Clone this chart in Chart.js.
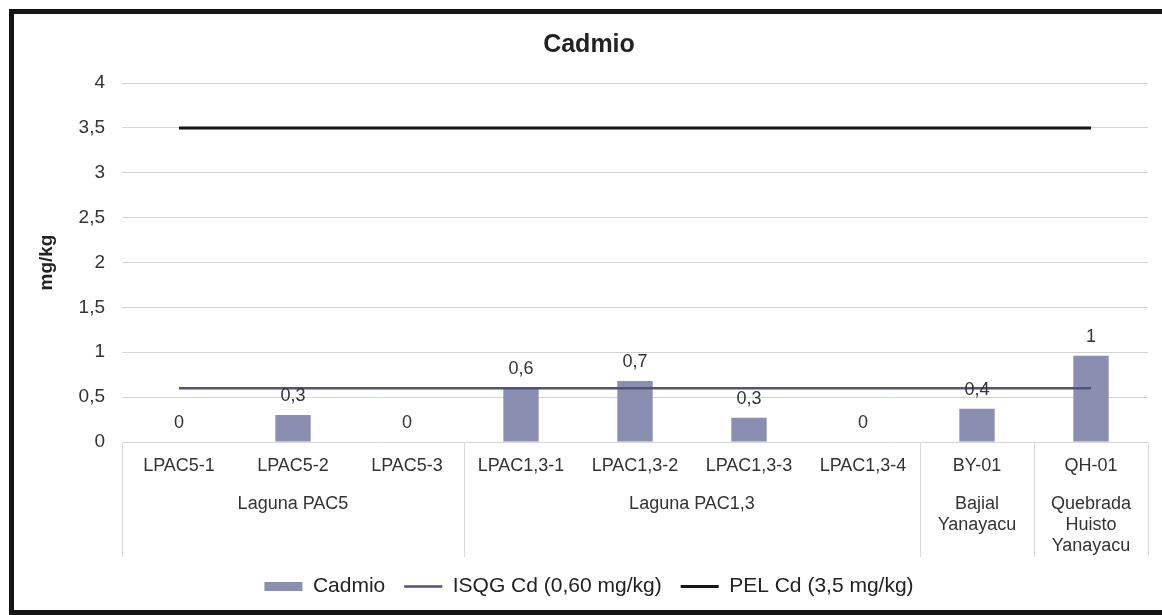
<!DOCTYPE html>
<html>
<head>
<meta charset="utf-8">
<script src="https://cdn.jsdelivr.net/npm/chart.js@4.4.1/dist/chart.umd.min.js"></script>
<style>
  body { margin: 0; background: #fff; overflow: hidden; }
  #frame { position: absolute; left: 9px; top: 9px; width: 1170px; height: 606px; border: 5px solid #151515; box-sizing: border-box; pointer-events: none; }
  canvas { position: absolute; left: 0; top: 0; }
</style>
</head>
<body>
<canvas id="cadmioChart" width="1162" height="615"></canvas>
<div id="frame"></div>
<script>
// stations and values (mg/kg)
const stations = ['LPAC5-1', 'LPAC5-2', 'LPAC5-3', 'LPAC1,3-1', 'LPAC1,3-2', 'LPAC1,3-3', 'LPAC1,3-4', 'BY-01', 'QH-01'];
const cadmio = [0, 0.3, 0, 0.6, 0.68, 0.27, 0, 0.37, 0.96];
const isqg = [0.6, 0.6, 0.6, 0.6, 0.6, 0.6, 0.6, 0.6, 0.6];
const pel = [3.5, 3.5, 3.5, 3.5, 3.5, 3.5, 3.5, 3.5, 3.5];

// site groups under the station labels
const groupNames = [['Laguna PAC5'], ['Laguna PAC1,3'], ['Bajial', 'Yanayacu'], ['Quebrada', 'Huisto', 'Yanayacu']];
const groupFirst = [0, 3, 7, 8];
const groupLast = [2, 6, 7, 8];

const yTicks = [0, 0.5, 1, 1.5, 2, 2.5, 3, 3.5, 4];

const FONT = "'Liberation Sans', Arial, sans-serif";

function comma(v) {
    let s = (Math.round(v * 10) / 10).toString();
    return s.replace('.', ',');
}

// value labels above the bars
const barLabels = {
    id: 'barLabels',
    afterDatasetsDraw(chart) {
        const ctx = chart.ctx;
        const meta = chart.getDatasetMeta(0);
        ctx.save();
        ctx.font = '18px ' + FONT;
        ctx.fillStyle = '#333';
        ctx.textAlign = 'center';
        ctx.textBaseline = 'middle';
        meta.data.forEach((bar, i) => {
            ctx.fillText(comma(cadmio[i]), bar.x, bar.y - 19);
        });
        ctx.restore();
    }
};

// second row of x labels with separators
const groupAxis = {
    id: 'groupAxis',
    afterDraw(chart) {
        const ctx = chart.ctx;
        const x = chart.scales.x;
        const top = chart.chartArea.bottom;
        const bottom = top + 115;
        const half = (x.getPixelForValue(1) - x.getPixelForValue(0)) / 2;
        ctx.save();
        ctx.strokeStyle = '#dadada';
        ctx.lineWidth = 1;
        const edges = groupFirst.map(i => x.getPixelForValue(i) - half);
        edges.push(x.getPixelForValue(groupLast[groupLast.length - 1]) + half);
        edges.forEach(px => {
            ctx.beginPath();
            ctx.moveTo(Math.round(px) + 0.5, top);
            ctx.lineTo(Math.round(px) + 0.5, bottom);
            ctx.stroke();
        });
        ctx.font = '18px ' + FONT;
        ctx.fillStyle = '#333';
        ctx.textAlign = 'center';
        ctx.textBaseline = 'middle';
        groupNames.forEach((lines, g) => {
            const cx = (x.getPixelForValue(groupFirst[g]) + x.getPixelForValue(groupLast[g])) / 2;
            lines.forEach((t, k) => {
                ctx.fillText(t, cx, top + 62 + k * 21);
            });
        });
        ctx.restore();
    }
};

new Chart(document.getElementById('cadmioChart'), {
    data: {
        labels: stations,
        datasets: [{
            type: 'bar',
            label: 'Cadmio',
            data: cadmio,
            backgroundColor: '#8a8fb2',
            borderWidth: 0,
            barPercentage: 0.31,
            categoryPercentage: 1,
            pointStyle: 'rect',
            order: 2
        },
        {
            type: 'line',
            label: 'ISQG Cd (0,60 mg/kg)',
            data: isqg,
            borderColor: '#4f5573',
            borderWidth: 2.5,
            pointRadius: 0,
            pointStyle: 'line',
            order: 1
        },
        {
            type: 'line',
            label: 'PEL Cd (3,5 mg/kg)',
            data: pel,
            borderColor: '#151515',
            borderWidth: 3,
            pointRadius: 0,
            pointStyle: 'line',
            order: 0
        }]
    },
    plugins: [barLabels, groupAxis],
    options: {
        responsive: false,
        animation: false,
        devicePixelRatio: 1,
        layout: { padding: { left: 30, right: 14, top: 30, bottom: 8 } },
        plugins: {
            title: {
                display: true,
                text: 'Cadmio',
                color: '#222',
                font: { family: FONT, size: 25, weight: 'bold' },
                padding: { top: 0, bottom: 23 }
            },
            legend: {
                position: 'bottom',
                labels: {
                    usePointStyle: true,
                    pointStyleWidth: 38,
                    boxHeight: 9,
                    color: '#222',
                    font: { family: FONT, size: 21 },
                    padding: 19,
                    sort: (a, b) => a.datasetIndex - b.datasetIndex
                }
            },
            tooltip: { enabled: false }
        },
        scales: {
            x: {
                grid: { display: false, drawTicks: false },
                border: { display: false },
                ticks: { color: '#333', font: { family: FONT, size: 18 }, padding: 13, maxRotation: 0 },
                afterFit(scale) { scale.height = 115; }
            },
            y: {
                min: 0,
                max: 4,
                afterBuildTicks(scale) { scale.ticks = yTicks.map(v => ({ value: v })); },
                grid: { color: '#d4d4d4', drawTicks: false },
                border: { display: false },
                ticks: { color: '#333', font: { family: FONT, size: 19 }, padding: 17, callback: v => comma(v) },
                title: { display: true, text: 'mg/kg', color: '#222', font: { family: FONT, size: 19, weight: 'bold' }, padding: 5 },
                afterFit(scale) { scale.width = 92; }
            }
        }
    }
});
</script>
</body>
</html>
